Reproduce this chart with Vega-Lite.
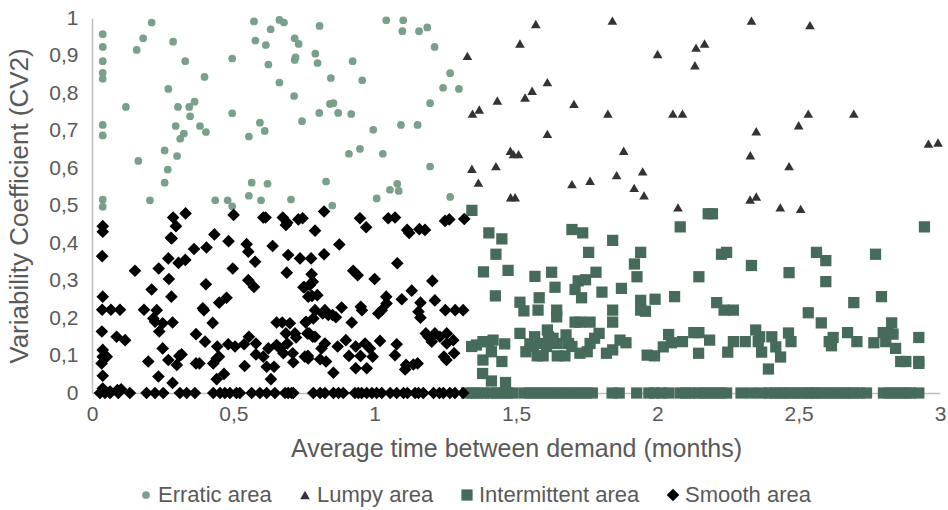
{
"$schema": "https://vega.github.io/schema/vega-lite/v6.json",
"autosize": {"type": "none"},
"width": 848, "height": 375,
"padding": {"left": 92, "top": 18, "right": 8, "bottom": 117},
"background": "white",
"config": {
  "view": {"stroke": null},
  "font": "Liberation Sans",
  "axis": {"grid": false, "ticks": false, "domainColor": "#bfbfbf", "domainWidth": 1.5, "labelColor": "#595959", "labelFontSize": 21, "labelFont": "Liberation Sans", "titleFont": "Liberation Sans", "titleColor": "#595959", "titleFontSize": 25, "titleFontWeight": "normal"},
  "legend": {"labelFont": "Liberation Sans", "labelFontSize": 22, "labelColor": "#595959", "labelLimit": 400}
},
"datasets": {
"pts": [
{"g":"E","x":0.038,"y":0.957},{"g":"E","x":0.038,"y":0.923},{"g":"E","x":0.038,"y":0.885},{"g":"E","x":0.038,"y":0.854},{"g":"E","x":0.038,"y":0.838},{"g":"E","x":0.038,"y":0.715},{"g":"E","x":0.038,"y":0.687},{"g":"E","x":0.038,"y":0.516},{"g":"E","x":0.038,"y":0.497},{"g":"E","x":0.12,"y":0.763},{"g":"E","x":0.158,"y":0.915},{"g":"E","x":0.181,"y":0.946},{"g":"E","x":0.211,"y":0.988},{"g":"E","x":0.164,"y":0.619},{"g":"E","x":0.205,"y":0.514},{"g":"E","x":0.27,"y":0.811},{"g":"E","x":0.287,"y":0.937},{"g":"E","x":0.33,"y":0.885},{"g":"E","x":0.398,"y":0.843},{"g":"E","x":0.304,"y":0.763},{"g":"E","x":0.344,"y":0.763},{"g":"E","x":0.363,"y":0.777},{"g":"E","x":0.347,"y":0.738},{"g":"E","x":0.296,"y":0.712},{"g":"E","x":0.325,"y":0.692},{"g":"E","x":0.312,"y":0.678},{"g":"E","x":0.382,"y":0.712},{"g":"E","x":0.403,"y":0.696},{"g":"E","x":0.257,"y":0.647},{"g":"E","x":0.301,"y":0.632},{"g":"E","x":0.268,"y":0.596},{"g":"E","x":0.257,"y":0.561},{"g":"E","x":0.436,"y":0.514},{"g":"E","x":0.48,"y":0.514},{"g":"E","x":0.496,"y":0.498},{"g":"E","x":0.496,"y":0.892},{"g":"E","x":0.496,"y":0.746},{"g":"E","x":0.573,"y":0.991},{"g":"E","x":0.578,"y":0.94},{"g":"E","x":0.615,"y":0.928},{"g":"E","x":0.632,"y":0.97},{"g":"E","x":0.624,"y":0.876},{"g":"E","x":0.663,"y":0.995},{"g":"E","x":0.679,"y":0.988},{"g":"E","x":0.663,"y":0.828},{"g":"E","x":0.715,"y":0.792},{"g":"E","x":0.717,"y":0.946},{"g":"E","x":0.731,"y":0.931},{"g":"E","x":0.72,"y":0.895},{"g":"E","x":0.717,"y":0.888},{"g":"E","x":0.79,"y":0.905},{"g":"E","x":0.798,"y":0.88},{"g":"E","x":0.805,"y":0.979},{"g":"E","x":0.804,"y":0.747},{"g":"E","x":0.743,"y":0.725},{"g":"E","x":0.594,"y":0.721},{"g":"E","x":0.611,"y":0.699},{"g":"E","x":0.555,"y":0.684},{"g":"E","x":0.565,"y":0.561},{"g":"E","x":0.621,"y":0.558},{"g":"E","x":0.555,"y":0.526},{"g":"E","x":0.598,"y":0.514},{"g":"E","x":0.704,"y":0.516},{"g":"E","x":0.922,"y":0.885},{"g":"E","x":0.845,"y":0.84},{"g":"E","x":0.956,"y":0.834},{"g":"E","x":0.842,"y":0.771},{"g":"E","x":0.854,"y":0.773},{"g":"E","x":0.871,"y":0.747},{"g":"E","x":0.917,"y":0.744},{"g":"E","x":0.995,"y":0.702},{"g":"E","x":0.909,"y":0.638},{"g":"E","x":0.948,"y":0.651},{"g":"E","x":1.029,"y":0.638},{"g":"E","x":0.828,"y":0.564},{"g":"E","x":0.85,"y":0.5},{"g":"E","x":1.007,"y":0.519},{"g":"E","x":1.054,"y":0.542},{"g":"E","x":1.08,"y":0.558},{"g":"E","x":1.085,"y":0.539},{"g":"E","x":1.196,"y":0.604},{"g":"E","x":1.267,"y":0.523},{"g":"E","x":1.041,"y":0.994},{"g":"E","x":1.101,"y":0.994},{"g":"E","x":1.098,"y":0.965},{"g":"E","x":1.157,"y":0.965},{"g":"E","x":1.186,"y":0.975},{"g":"E","x":1.212,"y":0.923},{"g":"E","x":1.267,"y":0.853},{"g":"E","x":1.242,"y":0.814},{"g":"E","x":1.298,"y":0.811},{"g":"E","x":1.196,"y":0.773},{"g":"E","x":1.093,"y":0.715},{"g":"E","x":1.152,"y":0.715},
{"g":"L","x":1.328,"y":0.899},{"g":"L","x":1.57,"y":0.984},{"g":"L","x":1.841,"y":0.993},{"g":"L","x":1.514,"y":0.932},{"g":"L","x":1.611,"y":0.829},{"g":"L","x":1.557,"y":0.806},{"g":"L","x":1.532,"y":0.788},{"g":"L","x":1.434,"y":0.78},{"g":"L","x":1.37,"y":0.756},{"g":"L","x":1.346,"y":0.745},{"g":"L","x":1.705,"y":0.771},{"g":"L","x":1.825,"y":0.745},{"g":"L","x":1.611,"y":0.691},{"g":"L","x":1.48,"y":0.646},{"g":"L","x":1.491,"y":0.637},{"g":"L","x":1.509,"y":0.637},{"g":"L","x":1.344,"y":0.598},{"g":"L","x":1.429,"y":0.605},{"g":"L","x":1.367,"y":0.561},{"g":"L","x":1.698,"y":0.557},{"g":"L","x":1.762,"y":0.566},{"g":"L","x":1.856,"y":0.581},{"g":"L","x":1.481,"y":0.522},{"g":"L","x":1.497,"y":0.522},{"g":"L","x":2.333,"y":0.993},{"g":"L","x":2.54,"y":0.981},{"g":"L","x":2.001,"y":0.904},{"g":"L","x":2.137,"y":0.921},{"g":"L","x":2.167,"y":0.932},{"g":"L","x":2.133,"y":0.874},{"g":"L","x":2.055,"y":0.745},{"g":"L","x":2.089,"y":0.745},{"g":"L","x":2.534,"y":0.745},{"g":"L","x":2.695,"y":0.745},{"g":"L","x":2.5,"y":0.714},{"g":"L","x":2.35,"y":0.698},{"g":"L","x":1.881,"y":0.646},{"g":"L","x":2.329,"y":0.634},{"g":"L","x":2.466,"y":0.605},{"g":"L","x":2.959,"y":0.665},{"g":"L","x":2.993,"y":0.668},{"g":"L","x":1.948,"y":0.591},{"g":"L","x":1.918,"y":0.547},{"g":"L","x":1.953,"y":0.527},{"g":"L","x":2.073,"y":0.495},{"g":"L","x":2.328,"y":0.516},{"g":"L","x":2.35,"y":0.524},{"g":"L","x":2.435,"y":0.495},{"g":"L","x":2.507,"y":0.491},
{"g":"I","x":1.344,"y":0.487},{"g":"I","x":1.404,"y":0.427},{"g":"I","x":1.45,"y":0.411},{"g":"I","x":1.429,"y":0.37},{"g":"I","x":1.472,"y":0.327},{"g":"I","x":1.385,"y":0.323},{"g":"I","x":1.698,"y":0.436},{"g":"I","x":1.736,"y":0.427},{"g":"I","x":1.842,"y":0.407},{"g":"I","x":1.757,"y":0.375},{"g":"I","x":1.783,"y":0.322},{"g":"I","x":1.626,"y":0.322},{"g":"I","x":1.567,"y":0.311},{"g":"I","x":1.72,"y":0.299},{"g":"I","x":1.746,"y":0.302},{"g":"I","x":1.638,"y":0.282},{"g":"I","x":1.709,"y":0.276},{"g":"I","x":1.804,"y":0.269},{"g":"I","x":1.427,"y":0.259},{"g":"I","x":1.582,"y":0.254},{"g":"I","x":1.732,"y":0.254},{"g":"I","x":1.514,"y":0.242},{"g":"I","x":1.528,"y":0.219},{"g":"I","x":1.578,"y":0.221},{"g":"I","x":1.644,"y":0.221},{"g":"I","x":1.644,"y":0.203},{"g":"I","x":1.842,"y":0.221},{"g":"I","x":1.709,"y":0.189},{"g":"I","x":1.726,"y":0.189},{"g":"I","x":1.762,"y":0.189},{"g":"I","x":1.842,"y":0.189},{"g":"I","x":1.611,"y":0.168},{"g":"I","x":1.514,"y":0.159},{"g":"I","x":1.794,"y":0.159},{"g":"I","x":1.566,"y":0.15},{"g":"I","x":1.615,"y":0.15},{"g":"I","x":1.677,"y":0.155},{"g":"I","x":1.631,"y":0.146},{"g":"I","x":1.778,"y":0.146},{"g":"I","x":1.343,"y":0.124},{"g":"I","x":1.36,"y":0.128},{"g":"I","x":1.383,"y":0.137},{"g":"I","x":1.402,"y":0.137},{"g":"I","x":1.419,"y":0.141},{"g":"I","x":1.46,"y":0.131},{"g":"I","x":1.413,"y":0.11},{"g":"I","x":1.383,"y":0.088},{"g":"I","x":1.45,"y":0.084},{"g":"I","x":1.549,"y":0.131},{"g":"I","x":1.561,"y":0.124},{"g":"I","x":1.592,"y":0.132},{"g":"I","x":1.608,"y":0.124},{"g":"I","x":1.646,"y":0.132},{"g":"I","x":1.686,"y":0.132},{"g":"I","x":1.698,"y":0.124},{"g":"I","x":1.762,"y":0.132},{"g":"I","x":1.82,"y":0.106},{"g":"I","x":1.842,"y":0.115},{"g":"I","x":1.535,"y":0.11},{"g":"I","x":1.575,"y":0.099},{"g":"I","x":1.596,"y":0.099},{"g":"I","x":1.646,"y":0.099},{"g":"I","x":1.673,"y":0.099},{"g":"I","x":1.726,"y":0.106},{"g":"I","x":1.752,"y":0.11},{"g":"I","x":1.382,"y":0.052},{"g":"I","x":1.413,"y":0.032},{"g":"I","x":1.463,"y":0.028},
{"g":"I","x":2.18,"y":0.478},{"g":"I","x":2.195,"y":0.478},{"g":"I","x":2.081,"y":0.443},{"g":"I","x":2.945,"y":0.443},{"g":"I","x":1.941,"y":0.375},{"g":"I","x":1.919,"y":0.344},{"g":"I","x":1.928,"y":0.31},{"g":"I","x":1.873,"y":0.279},{"g":"I","x":2.227,"y":0.37},{"g":"I","x":2.245,"y":0.375},{"g":"I","x":2.333,"y":0.34},{"g":"I","x":2.147,"y":0.31},{"g":"I","x":2.466,"y":0.321},{"g":"I","x":2.563,"y":0.375},{"g":"I","x":2.596,"y":0.353},{"g":"I","x":2.596,"y":0.297},{"g":"I","x":2.772,"y":0.37},{"g":"I","x":2.793,"y":0.257},{"g":"I","x":2.695,"y":0.241},{"g":"I","x":1.941,"y":0.247},{"g":"I","x":1.992,"y":0.25},{"g":"I","x":2.061,"y":0.257},{"g":"I","x":1.941,"y":0.221},{"g":"I","x":1.958,"y":0.218},{"g":"I","x":2.21,"y":0.241},{"g":"I","x":2.236,"y":0.221},{"g":"I","x":2.269,"y":0.221},{"g":"I","x":2.534,"y":0.214},{"g":"I","x":2.58,"y":0.187},{"g":"I","x":2.829,"y":0.187},{"g":"I","x":2.348,"y":0.168},{"g":"I","x":2.464,"y":0.16},{"g":"I","x":2.673,"y":0.161},{"g":"I","x":2.04,"y":0.156},{"g":"I","x":2.129,"y":0.161},{"g":"I","x":2.147,"y":0.161},{"g":"I","x":2.799,"y":0.161},{"g":"I","x":2.817,"y":0.161},{"g":"I","x":2.834,"y":0.157},{"g":"I","x":2.925,"y":0.148},{"g":"I","x":1.868,"y":0.141},{"g":"I","x":1.889,"y":0.134},{"g":"I","x":2.05,"y":0.134},{"g":"I","x":2.089,"y":0.137},{"g":"I","x":2.185,"y":0.141},{"g":"I","x":2.269,"y":0.137},{"g":"I","x":2.311,"y":0.137},{"g":"I","x":2.357,"y":0.137},{"g":"I","x":2.362,"y":0.15},{"g":"I","x":2.405,"y":0.15},{"g":"I","x":2.473,"y":0.137},{"g":"I","x":2.608,"y":0.137},{"g":"I","x":2.622,"y":0.148},{"g":"I","x":2.616,"y":0.126},{"g":"I","x":2.706,"y":0.137},{"g":"I","x":2.766,"y":0.134},{"g":"I","x":2.808,"y":0.137},{"g":"I","x":2.021,"y":0.123},{"g":"I","x":2.419,"y":0.123},{"g":"I","x":2.843,"y":0.119},{"g":"I","x":1.964,"y":0.101},{"g":"I","x":1.99,"y":0.099},{"g":"I","x":2.146,"y":0.106},{"g":"I","x":2.249,"y":0.109},{"g":"I","x":2.369,"y":0.109},{"g":"I","x":2.436,"y":0.096},{"g":"I","x":2.393,"y":0.064},{"g":"I","x":2.861,"y":0.084},{"g":"I","x":2.879,"y":0.084},{"g":"I","x":2.925,"y":0.084},{"g":"I","x":2.925,"y":0.079},
{"g":"I","x":1.325,"y":0},{"g":"I","x":1.345,"y":0},{"g":"I","x":1.365,"y":0},{"g":"I","x":1.385,"y":0},{"g":"I","x":1.41,"y":0},{"g":"I","x":1.43,"y":0},{"g":"I","x":1.45,"y":0},{"g":"I","x":1.47,"y":0},{"g":"I","x":1.49,"y":0},{"g":"I","x":1.53,"y":0},{"g":"I","x":1.55,"y":0},{"g":"I","x":1.57,"y":0},{"g":"I","x":1.59,"y":0},{"g":"I","x":1.61,"y":0},{"g":"I","x":1.63,"y":0},{"g":"I","x":1.65,"y":0},{"g":"I","x":1.67,"y":0},{"g":"I","x":1.69,"y":0},{"g":"I","x":1.71,"y":0},{"g":"I","x":1.73,"y":0},{"g":"I","x":1.75,"y":0},{"g":"I","x":1.77,"y":0},{"g":"I","x":1.84,"y":0},{"g":"I","x":1.865,"y":0},{"g":"I","x":1.927,"y":0},{"g":"I","x":1.97,"y":0},{"g":"I","x":1.99,"y":0},{"g":"I","x":2.015,"y":0},{"g":"I","x":2.039,"y":0},{"g":"I","x":2.08,"y":0},{"g":"I","x":2.1,"y":0},{"g":"I","x":2.12,"y":0},{"g":"I","x":2.145,"y":0},{"g":"I","x":2.165,"y":0},{"g":"I","x":2.185,"y":0},{"g":"I","x":2.205,"y":0},{"g":"I","x":2.225,"y":0},{"g":"I","x":2.245,"y":0},{"g":"I","x":2.296,"y":0},{"g":"I","x":2.333,"y":0},{"g":"I","x":2.368,"y":0},{"g":"I","x":2.395,"y":0},{"g":"I","x":2.415,"y":0},{"g":"I","x":2.435,"y":0},{"g":"I","x":2.45,"y":0},{"g":"I","x":2.47,"y":0},{"g":"I","x":2.49,"y":0},{"g":"I","x":2.51,"y":0},{"g":"I","x":2.53,"y":0},{"g":"I","x":2.545,"y":0},{"g":"I","x":2.56,"y":0},{"g":"I","x":2.58,"y":0},{"g":"I","x":2.6,"y":0},{"g":"I","x":2.62,"y":0},{"g":"I","x":2.64,"y":0},{"g":"I","x":2.66,"y":0},{"g":"I","x":2.675,"y":0},{"g":"I","x":2.695,"y":0},{"g":"I","x":2.715,"y":0},{"g":"I","x":2.74,"y":0},{"g":"I","x":2.8,"y":0},{"g":"I","x":2.82,"y":0},{"g":"I","x":2.84,"y":0},{"g":"I","x":2.86,"y":0},{"g":"I","x":2.88,"y":0},{"g":"I","x":2.895,"y":0},{"g":"I","x":2.925,"y":0},
{"g":"S","x":0.038,"y":0.445},{"g":"S","x":0.038,"y":0.43},{"g":"S","x":0.036,"y":0.365},{"g":"S","x":0.038,"y":0.257},{"g":"S","x":0.036,"y":0.222},{"g":"S","x":0.067,"y":0.222},{"g":"S","x":0.099,"y":0.222},{"g":"S","x":0.035,"y":0.164},{"g":"S","x":0.087,"y":0.15},{"g":"S","x":0.117,"y":0.141},{"g":"S","x":0.038,"y":0.115},{"g":"S","x":0.038,"y":0.097},{"g":"S","x":0.052,"y":0.097},{"g":"S","x":0.034,"y":0.079},{"g":"S","x":0.038,"y":0.046},{"g":"S","x":0.038,"y":0.012},{"g":"S","x":0.064,"y":0.004},{"g":"S","x":0.09,"y":0.008},{"g":"S","x":0.103,"y":0.01},{"g":"S","x":0.152,"y":0.326},{"g":"S","x":0.184,"y":0.222},{"g":"S","x":0.211,"y":0.276},{"g":"S","x":0.217,"y":0.199},{"g":"S","x":0.223,"y":0.19},{"g":"S","x":0.229,"y":0.221},{"g":"S","x":0.236,"y":0.332},{"g":"S","x":0.238,"y":0.164},{"g":"S","x":0.25,"y":0.186},{"g":"S","x":0.25,"y":0.119},{"g":"S","x":0.199,"y":0.084},{"g":"S","x":0.235,"y":0.044},{"g":"S","x":0.272,"y":0.304},{"g":"S","x":0.281,"y":0.257},{"g":"S","x":0.285,"y":0.188},{"g":"S","x":0.27,"y":0.359},{"g":"S","x":0.282,"y":0.412},{"g":"S","x":0.287,"y":0.468},{"g":"S","x":0.297,"y":0.445},{"g":"S","x":0.331,"y":0.479},{"g":"S","x":0.306,"y":0.347},{"g":"S","x":0.33,"y":0.355},{"g":"S","x":0.361,"y":0.384},{"g":"S","x":0.405,"y":0.388},{"g":"S","x":0.433,"y":0.423},{"g":"S","x":0.483,"y":0.405},{"g":"S","x":0.498,"y":0.332},{"g":"S","x":0.501,"y":0.475},{"g":"S","x":0.403,"y":0.29},{"g":"S","x":0.45,"y":0.241},{"g":"S","x":0.476,"y":0.254},{"g":"S","x":0.392,"y":0.226},{"g":"S","x":0.396,"y":0.221},{"g":"S","x":0.427,"y":0.187},{"g":"S","x":0.368,"y":0.157},{"g":"S","x":0.4,"y":0.137},{"g":"S","x":0.317,"y":0.103},{"g":"S","x":0.309,"y":0.099},{"g":"S","x":0.27,"y":0.088},{"g":"S","x":0.3,"y":0.075},{"g":"S","x":0.285,"y":0.027},{"g":"S","x":0.368,"y":0.079},{"g":"S","x":0.38,"y":0.079},{"g":"S","x":0.429,"y":0.079},{"g":"S","x":0.441,"y":0.092},{"g":"S","x":0.449,"y":0.097},{"g":"S","x":0.443,"y":0.124},{"g":"S","x":0.482,"y":0.13},{"g":"S","x":0.506,"y":0.124},{"g":"S","x":0.538,"y":0.13},{"g":"S","x":0.467,"y":0.051},{"g":"S","x":0.441,"y":0.037},{"g":"S","x":0.54,"y":0.072},{"g":"S","x":0.555,"y":0.15},{"g":"S","x":0.58,"y":0.132},{"g":"S","x":0.58,"y":0.103},{"g":"S","x":0.606,"y":0.097},{"g":"S","x":0.624,"y":0.119},{"g":"S","x":0.618,"y":0.07},{"g":"S","x":0.644,"y":0.07},{"g":"S","x":0.633,"y":0.037},{"g":"S","x":0.653,"y":0.128},{"g":"S","x":0.665,"y":0.119},{"g":"S","x":0.677,"y":0.106},{"g":"S","x":0.691,"y":0.132},{"g":"S","x":0.71,"y":0.106},{"g":"S","x":0.712,"y":0.082},{"g":"S","x":0.753,"y":0.097},{"g":"S","x":0.686,"y":0.159},{"g":"S","x":0.718,"y":0.159},{"g":"S","x":0.722,"y":0.148},{"g":"S","x":0.653,"y":0.188},{"g":"S","x":0.673,"y":0.188},{"g":"S","x":0.7,"y":0.186},{"g":"S","x":0.757,"y":0.19},{"g":"S","x":0.783,"y":0.199},{"g":"S","x":0.768,"y":0.159},{"g":"S","x":0.789,"y":0.15},{"g":"S","x":0.765,"y":0.092},{"g":"S","x":0.553,"y":0.301},{"g":"S","x":0.573,"y":0.283},{"g":"S","x":0.577,"y":0.35},{"g":"S","x":0.553,"y":0.377},{"g":"S","x":0.547,"y":0.397},{"g":"S","x":0.606,"y":0.468},{"g":"S","x":0.614,"y":0.468},{"g":"S","x":0.639,"y":0.392},{"g":"S","x":0.675,"y":0.468},{"g":"S","x":0.686,"y":0.448},{"g":"S","x":0.689,"y":0.321},{"g":"S","x":0.694,"y":0.368},{"g":"S","x":0.73,"y":0.463},{"g":"S","x":0.745,"y":0.466},{"g":"S","x":0.789,"y":0.433},{"g":"S","x":0.736,"y":0.359},{"g":"S","x":0.775,"y":0.359},{"g":"S","x":0.748,"y":0.282},{"g":"S","x":0.771,"y":0.288},{"g":"S","x":0.765,"y":0.257},{"g":"S","x":0.777,"y":0.317},{"g":"S","x":0.781,"y":0.297},{"g":"S","x":0.797,"y":0.261},
{"g":"S","x":0.821,"y":0.484},{"g":"S","x":0.875,"y":0.396},{"g":"S","x":0.821,"y":0.37},{"g":"S","x":0.948,"y":0.466},{"g":"S","x":0.97,"y":0.442},{"g":"S","x":1.048,"y":0.466},{"g":"S","x":1.072,"y":0.468},{"g":"S","x":1.115,"y":0.435},{"g":"S","x":1.122,"y":0.427},{"g":"S","x":1.158,"y":0.437},{"g":"S","x":1.178,"y":0.435},{"g":"S","x":1.249,"y":0.459},{"g":"S","x":1.264,"y":0.463},{"g":"S","x":1.317,"y":0.464},{"g":"S","x":1.08,"y":0.346},{"g":"S","x":0.924,"y":0.326},{"g":"S","x":0.94,"y":0.314},{"g":"S","x":1.0,"y":0.304},{"g":"S","x":1.204,"y":0.299},{"g":"S","x":0.752,"y":0.282},{"g":"S","x":0.778,"y":0.259},{"g":"S","x":1.131,"y":0.273},{"g":"S","x":1.041,"y":0.257},{"g":"S","x":1.096,"y":0.25},{"g":"S","x":1.162,"y":0.241},{"g":"S","x":1.213,"y":0.247},{"g":"S","x":0.951,"y":0.23},{"g":"S","x":0.955,"y":0.221},{"g":"S","x":1.042,"y":0.239},{"g":"S","x":1.025,"y":0.221},{"g":"S","x":1.013,"y":0.212},{"g":"S","x":0.883,"y":0.228},{"g":"S","x":0.824,"y":0.221},{"g":"S","x":0.789,"y":0.221},{"g":"S","x":0.816,"y":0.212},{"g":"S","x":0.836,"y":0.208},{"g":"S","x":0.851,"y":0.208},{"g":"S","x":0.863,"y":0.202},{"g":"S","x":0.756,"y":0.188},{"g":"S","x":0.919,"y":0.188},{"g":"S","x":1.155,"y":0.217},{"g":"S","x":1.162,"y":0.201},{"g":"S","x":1.25,"y":0.221},{"g":"S","x":1.285,"y":0.221},{"g":"S","x":1.313,"y":0.221},{"g":"S","x":0.762,"y":0.159},{"g":"S","x":0.781,"y":0.15},{"g":"S","x":0.824,"y":0.132},{"g":"S","x":0.812,"y":0.119},{"g":"S","x":0.869,"y":0.124},{"g":"S","x":0.898,"y":0.141},{"g":"S","x":0.933,"y":0.124},{"g":"S","x":0.966,"y":0.132},{"g":"S","x":0.983,"y":0.119},{"g":"S","x":1.019,"y":0.139},{"g":"S","x":1.078,"y":0.13},{"g":"S","x":1.181,"y":0.159},{"g":"S","x":1.19,"y":0.15},{"g":"S","x":1.202,"y":0.137},{"g":"S","x":1.213,"y":0.159},{"g":"S","x":1.231,"y":0.15},{"g":"S","x":1.255,"y":0.159},{"g":"S","x":1.278,"y":0.141},{"g":"S","x":1.255,"y":0.132},{"g":"S","x":1.281,"y":0.106},{"g":"S","x":1.245,"y":0.097},{"g":"S","x":1.254,"y":0.088},{"g":"S","x":0.764,"y":0.099},{"g":"S","x":0.807,"y":0.09},{"g":"S","x":0.828,"y":0.084},{"g":"S","x":0.854,"y":0.054},{"g":"S","x":0.909,"y":0.099},{"g":"S","x":0.95,"y":0.099},{"g":"S","x":0.993,"y":0.097},{"g":"S","x":0.933,"y":0.066},{"g":"S","x":0.972,"y":0.066},{"g":"S","x":1.072,"y":0.101},{"g":"S","x":1.111,"y":0.075},{"g":"S","x":1.137,"y":0.076},{"g":"S","x":1.152,"y":0.079},{"g":"S","x":1.108,"y":0.063},{"g":"S","x":0.691,"y":0.454},{"g":"S","x":0.279,"y":0.414},
{"g":"S","x":0.028,"y":0},{"g":"S","x":0.046,"y":0},{"g":"S","x":0.064,"y":0},{"g":"S","x":0.093,"y":0},{"g":"S","x":0.134,"y":0},{"g":"S","x":0.193,"y":0},{"g":"S","x":0.223,"y":0},{"g":"S","x":0.252,"y":0},{"g":"S","x":0.311,"y":0},{"g":"S","x":0.335,"y":0},{"g":"S","x":0.364,"y":0},{"g":"S","x":0.429,"y":0},{"g":"S","x":0.453,"y":0},{"g":"S","x":0.47,"y":0},{"g":"S","x":0.488,"y":0},{"g":"S","x":0.511,"y":0},{"g":"S","x":0.523,"y":0},{"g":"S","x":0.565,"y":0},{"g":"S","x":0.594,"y":0},{"g":"S","x":0.618,"y":0},{"g":"S","x":0.647,"y":0},{"g":"S","x":0.683,"y":0},{"g":"S","x":0.694,"y":0},{"g":"S","x":0.706,"y":0},{"g":"S","x":0.712,"y":0},{"g":"S","x":0.783,"y":0},{"g":"S","x":0.807,"y":0},{"g":"S","x":0.824,"y":0},{"g":"S","x":0.854,"y":0},{"g":"S","x":0.872,"y":0},{"g":"S","x":0.889,"y":0},{"g":"S","x":0.93,"y":0},{"g":"S","x":0.942,"y":0},{"g":"S","x":0.954,"y":0},{"g":"S","x":0.972,"y":0},{"g":"S","x":0.99,"y":0},{"g":"S","x":1.007,"y":0},{"g":"S","x":1.025,"y":0},{"g":"S","x":1.055,"y":0},{"g":"S","x":1.078,"y":0},{"g":"S","x":1.102,"y":0},{"g":"S","x":1.116,"y":0},{"g":"S","x":1.143,"y":0},{"g":"S","x":1.155,"y":0},{"g":"S","x":1.172,"y":0},{"g":"S","x":1.208,"y":0},{"g":"S","x":1.229,"y":0},{"g":"S","x":1.243,"y":0},{"g":"S","x":1.266,"y":0},{"g":"S","x":1.284,"y":0},{"g":"S","x":1.313,"y":0}
]
},
"data": {"name": "pts"},
"mark": {"type": "point", "filled": true, "opacity": 1, "strokeWidth": 0},
"encoding": {
  "x": {"field": "x", "type": "quantitative", "scale": {"domain": [0, 3], "nice": false, "zero": false},
        "axis": {"title": "Average time between demand (months)", "values": [0, 0.5, 1, 1.5, 2, 2.5, 3], "format": "~g", "labelExpr": "replace(datum.label, '.', ',')", "labelPadding": 10, "titlePadding": 12, "labelFlush": false}},
  "y": {"field": "y", "type": "quantitative", "scale": {"domain": [0, 1], "nice": false},
        "axis": {"title": "Variability Coefficient (CV2)", "titleFontSize": 26, "values": [0, 0.1, 0.2, 0.3, 0.4, 0.5, 0.6, 0.7, 0.8, 0.9, 1], "format": "~g", "labelExpr": "replace(datum.label, '.', ',')", "labelPadding": 14, "titlePadding": 16}},
  "color": {"field": "g", "type": "nominal", "title": null,
            "scale": {"domain": ["E", "L", "I", "S"], "range": ["#78a08b", "#333333", "#476b5a", "#000000"]},
            "legend": {"orient": "none", "legendX": 43, "legendY": 466, "direction": "horizontal", "columnPadding": 22, "symbolSize": 30, "symbolStrokeWidth": 0, "labelOffset": 1,
                       "labelExpr": "datum.label == 'E' ? 'Erratic area' : datum.label == 'L' ? 'Lumpy area' : datum.label == 'I' ? 'Intermittent area' : 'Smooth area'"}},
  "shape": {"field": "g", "type": "nominal", "title": null,
            "scale": {"domain": ["E", "L", "I", "S"], "range": ["circle", "triangle-up", "square", "diamond"]}},
  "size": {"field": "g", "type": "nominal", "legend": null,
           "scale": {"domain": ["E", "L", "I", "S"], "range": [60, 160, 72, 100]}}
}
}
